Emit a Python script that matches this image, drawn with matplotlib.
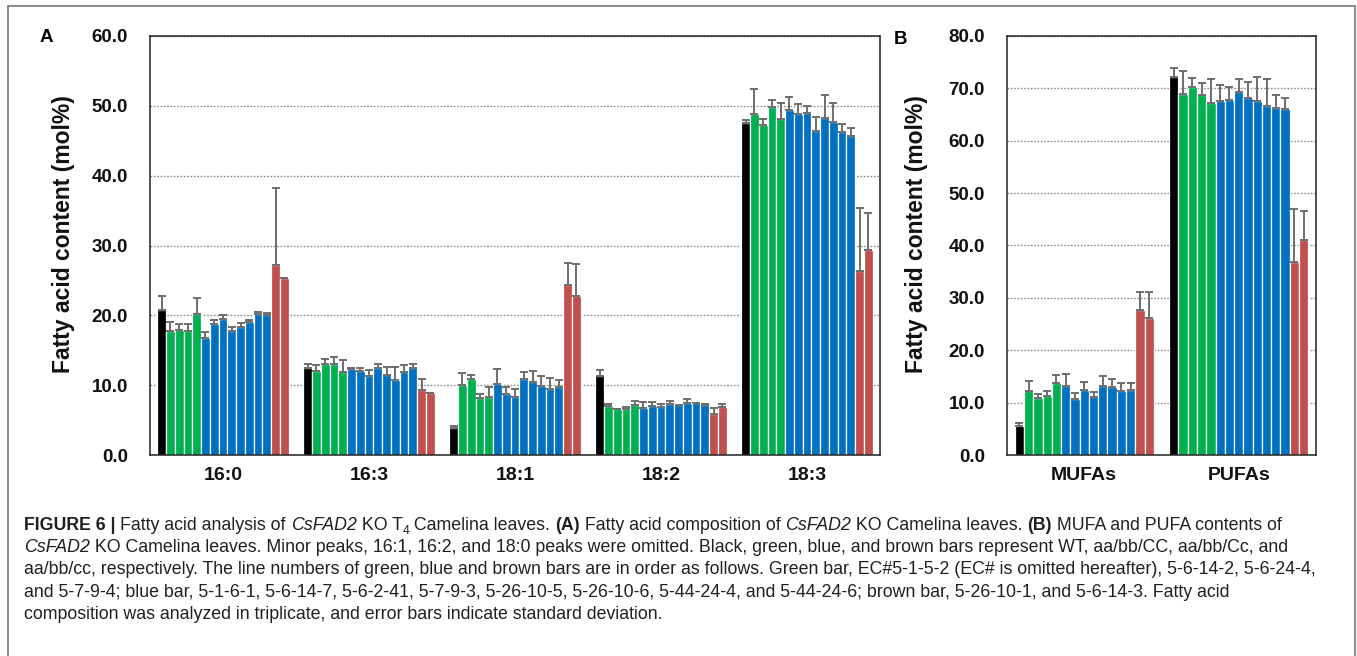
"""
Fatty acid composition of CsFAD2 KO Camelina leaves (Figure 6 re-draw).

Panel A: individual fatty acids, panel B: MUFA / PUFA totals.
Bars: WT (black), aa/bb/CC (green), aa/bb/Cc (blue), aa/bb/cc (brown).
"""

import matplotlib
matplotlib.use("Agg")
import matplotlib.pyplot as plt
import matplotlib.patches as mpatches
import numpy as np

# ---------------------------------------------------------------------------
# Data (mol%)
# ---------------------------------------------------------------------------

genotypes = ["WT"] + ["aa/bb/CC"] * 4 + ["aa/bb/Cc"] * 8 + ["aa/bb/cc"] * 2

fa_labels = ["16:0", "16:3", "18:1", "18:2", "18:3"]
fa_mean = {
    "16:0": [20.7, 17.8, 17.9, 17.8, 20.2, 16.7, 18.8, 19.5, 17.8, 18.3, 19.1, 20.2, 20.0, 27.2, 25.3],
    "16:3": [12.5, 12.1, 13.0, 13.0, 11.9, 12.3, 12.0, 11.3, 12.5, 11.4, 10.7, 11.9, 12.4, 9.3, 8.9],
    "18:1": [3.8, 10.0, 10.9, 8.1, 8.3, 10.1, 8.8, 8.3, 10.9, 10.4, 9.9, 9.4, 9.7, 24.4, 22.7],
    "18:2": [11.3, 7.0, 6.6, 6.6, 7.1, 6.8, 7.0, 6.9, 7.3, 7.1, 7.4, 7.4, 7.1, 5.9, 6.9],
    "18:3": [47.5, 48.9, 47.3, 49.9, 48.1, 49.4, 48.9, 49.0, 46.4, 48.2, 47.7, 46.3, 45.7, 26.4, 29.4],
}
fa_sd = {
    "16:0": [2.1, 1.2, 0.9, 1.0, 2.3, 0.9, 0.5, 0.6, 0.6, 0.6, 0.2, 0.3, 0.4, 11.1, 0.0],
    "16:3": [0.6, 0.8, 0.8, 1.0, 1.7, 0.2, 0.4, 0.9, 0.6, 1.2, 1.9, 1.0, 0.7, 1.6, 0.0],
    "18:1": [0.4, 1.7, 0.6, 0.6, 1.5, 2.2, 1.0, 1.2, 1.0, 1.7, 1.4, 1.6, 1.0, 3.1, 4.6],
    "18:2": [0.9, 0.3, 0.05, 0.3, 0.7, 0.8, 0.6, 0.4, 0.4, 0.1, 0.6, 0.05, 0.2, 0.8, 0.4],
    "18:3": [0.5, 3.5, 0.8, 1.0, 2.3, 1.8, 1.4, 1.0, 2.0, 3.3, 2.7, 1.1, 1.1, 9.0, 5.2],
}

sum_labels = ["MUFAs", "PUFAs"]
sum_mean = {
    "MUFAs": [5.5, 12.2, 10.8, 11.2, 13.7, 13.2, 10.6, 12.5, 11.0, 13.1, 12.9, 12.2, 12.5, 27.6, 26.1],
    "PUFAs": [72.1, 68.9, 70.2, 68.8, 67.2, 67.6, 67.7, 69.4, 68.2, 67.5, 66.6, 66.3, 66.1, 36.9, 41.1],
}
sum_sd = {
    "MUFAs": [0.6, 2.0, 0.8, 1.1, 1.6, 2.2, 1.2, 1.5, 1.1, 2.0, 1.7, 1.6, 1.2, 3.6, 5.0],
    "PUFAs": [1.7, 4.5, 1.8, 2.2, 4.5, 3.0, 2.6, 2.3, 3.0, 4.7, 5.2, 2.5, 2.1, 10.0, 5.4],
}

GENO_COLORS = {
    "WT": "#000000",
    "aa/bb/CC": "#00B050",
    "aa/bb/Cc": "#0070C0",
    "aa/bb/cc": "#C0504D",
}

W, H = 1357, 656
FONT = "Liberation Sans"
plt.rcParams["font.family"] = [FONT, "DejaVu Sans"]


def px(x, y):
    """Pixel (from top-left) -> figure fraction."""
    return x / W, 1 - y / H


def add_axes_px(fig, left, top, right, bottom):
    return fig.add_axes([left / W, 1 - bottom / H, (right - left) / W, (bottom - top) / H])


# ---------------------------------------------------------------------------
# grouped bar panel
# ---------------------------------------------------------------------------

def draw_panel(ax, labels, means, sds, ymax):
    n = len(genotypes)
    width = 0.06
    colors = [GENO_COLORS[g] for g in genotypes]
    for gi, lab in enumerate(labels):
        xs = gi + (np.arange(n) - (n - 1) / 2) * width
        vals = np.array(means[lab])
        err = np.array(sds[lab])
        ax.bar(xs, vals, width, color=colors, edgecolor="white", linewidth=0.9, zorder=2)
        ax.errorbar(xs, vals, yerr=[np.zeros(n), err], fmt="none", ecolor="#6e6e6e",
                    elinewidth=1.4, capsize=2.6, capthick=1.4, zorder=3)

    ax.set_xlim(-0.5, len(labels) - 0.5)
    ax.set_ylim(0, ymax)
    ax.set_yticks(np.arange(0, ymax + 1, 10))
    ax.set_yticklabels([f"{v:.1f}" for v in np.arange(0, ymax + 1, 10)])
    ax.set_xticks(range(len(labels)))
    ax.set_xticklabels(labels)
    ax.yaxis.grid(True, linestyle=(0, (1.2, 1.2)), color="#8c8c8c", linewidth=1.0)
    ax.set_axisbelow(True)
    ax.tick_params(axis="y", length=0, pad=16, labelsize=13.5)
    ax.tick_params(axis="x", length=0, pad=9, labelsize=14)
    for t in ax.get_xticklabels() + ax.get_yticklabels():
        t.set_fontweight("bold")
        t.set_color("#111111")
    for sp in ax.spines.values():
        sp.set_color("#222222")
        sp.set_linewidth(1.1)


# ---------------------------------------------------------------------------
# caption with mixed bold / italic runs
# ---------------------------------------------------------------------------

def text_width(fig, renderer, s, **kw):
    a = fig.text(0, 0, s + "|", **kw)
    b = fig.text(0, 0, "|", **kw)
    w = a.get_window_extent(renderer).width - b.get_window_extent(renderer).width
    a.remove()
    b.remove()
    return w


def put_runs(fig, renderer, x, y, runs, size):
    for s, style in runs:
        kw = dict(fontsize=size, color="#231f20", va="baseline", ha="left")
        dy = 0
        if style == "b":
            kw["fontweight"] = "bold"
        elif style == "i":
            kw["fontstyle"] = "italic"
        elif style == "sub":
            kw["fontsize"] = size * 0.68
            dy = 4
        fig.text(*px(x, y + dy), s, **kw)
        x += text_width(fig, renderer, s, **kw)


caption = [
    [("FIGURE 6 | ", "b"), ("Fatty acid analysis of ", ""), ("CsFAD2", "i"), (" KO T", ""),
     ("4", "sub"), (" Camelina leaves. ", ""), ("(A)", "b"),
     (" Fatty acid composition of ", ""), ("CsFAD2", "i"), (" KO Camelina leaves. ", ""),
     ("(B)", "b"), (" MUFA and PUFA contents of", "")],
    [("CsFAD2", "i"), (" KO Camelina leaves. Minor peaks, 16:1, 16:2, and 18:0 peaks were omitted. "
      "Black, green, blue, and brown bars represent WT, aa/bb/CC, aa/bb/Cc, and", "")],
    [("aa/bb/cc, respectively. The line numbers of green, blue and brown bars are in order as follows. "
      "Green bar, EC#5-1-5-2 (EC# is omitted hereafter), 5-6-14-2, 5-6-24-4,", "")],
    [("and 5-7-9-4; blue bar, 5-1-6-1, 5-6-14-7, 5-6-2-41, 5-7-9-3, 5-26-10-5, 5-26-10-6, 5-44-24-4, "
      "and 5-44-24-6; brown bar, 5-26-10-1, and 5-6-14-3. Fatty acid", "")],
    [("composition was analyzed in triplicate, and error bars indicate standard deviation.", "")],
]


def main():
    fig = plt.figure(figsize=(W / 100, H / 100), dpi=100)
    fig.patch.set_facecolor("white")

    axA = add_axes_px(fig, 150, 36, 880, 455)
    draw_panel(axA, fa_labels, fa_mean, fa_sd, 60)
    axB = add_axes_px(fig, 1007, 36, 1316, 455)
    draw_panel(axB, sum_labels, sum_mean, sum_sd, 80)

    ylab = "Fatty acid content (mol%)"
    fig.text(*px(64, 234), ylab, rotation=90, ha="center", va="center",
             fontsize=16.5, fontweight="bold", color="#111111")
    fig.text(*px(917, 234), ylab, rotation=90, ha="center", va="center",
             fontsize=16.5, fontweight="bold", color="#111111")
    fig.text(*px(40, 37), "A", ha="left", va="center", fontsize=13.5, fontweight="bold")
    fig.text(*px(894, 40), "B", ha="left", va="center", fontsize=13.5, fontweight="bold")

    # outer frame (open at the bottom edge)
    fig.add_artist(mpatches.Rectangle(px(8, 700), (1355 - 8) / W, (700 - 6) / H,
                                      transform=fig.transFigure, fill=False,
                                      edgecolor="#808080", linewidth=1.3))

    renderer = fig.canvas.get_renderer()
    for i, line in enumerate(caption):
        put_runs(fig, renderer, 24, 530 + i * 22.2, line, 12.8)

    fig.savefig("out.png", dpi=100)
    plt.close(fig)


if __name__ == "__main__":
    main()
